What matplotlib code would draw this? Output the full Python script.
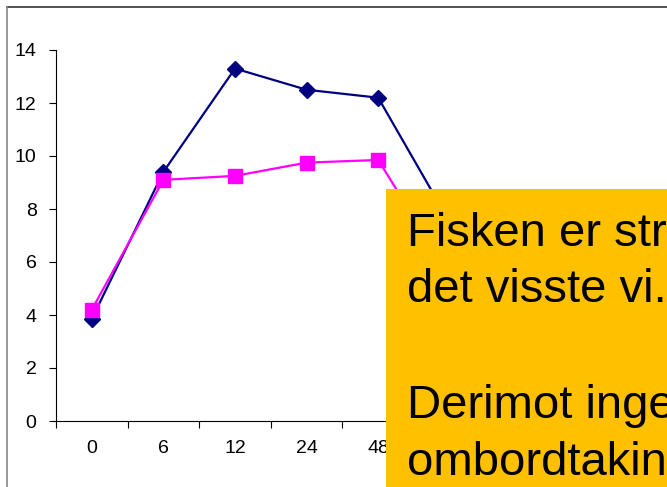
import matplotlib
matplotlib.use("Agg")
import matplotlib.pyplot as plt
from matplotlib.patches import Rectangle
from matplotlib.lines import Line2D

categories = ["0", "6", "12", "24", "48", "72"]
series_navy = [3.85, 9.4, 13.3, 12.5, 12.2, 7.5]
series_magenta = [4.2, 9.1, 9.25, 9.75, 9.85, 5.5]
y_ticks = [0, 2, 4, 6, 8, 10, 12, 14]
box_lines = ["Fisken er stresset", "det visste vi.", "", "Derimot ingen", "ombordtaking"]

W, H = 667, 487
fig = plt.figure(figsize=(W / 100, H / 100), dpi=100)
plt.rcParams['font.family'] = ['Liberation Sans', 'DejaVu Sans']

def fx(px):
    return px / W

def fy(py):
    return 1 - py / H

ax_left, ax_right, ax_top, ax_bottom = 56, 56 + 6 * 71.6, 50, 421
ax = fig.add_axes([fx(ax_left), fy(ax_bottom), fx(ax_right - ax_left), (ax_bottom - ax_top) / H])
x = list(range(len(categories)))
ax.plot(x, series_navy, color="#000080", lw=1.6, marker="D", ms=8, zorder=3, clip_on=False)
ax.plot(x, series_magenta, color="#FF00FF", lw=1.6, marker="s", ms=10.5, zorder=4, clip_on=False)
ax.set_xlim(-0.5, len(categories) - 0.5)
ax.set_ylim(0, 14)
ax.set_yticks(y_ticks)
ax.set_yticklabels([str(v) for v in y_ticks], fontsize=14)
ax.set_xticks(x)
ax.set_xticklabels(categories, fontsize=14)
ax.set_xticks([i - 0.5 for i in range(len(categories) + 1)], minor=True)
ax.tick_params(axis="x", which="major", length=0, pad=14)
ax.tick_params(axis="x", which="minor", length=5, width=0.8, direction="out")
ax.tick_params(axis="y", length=5, width=0.8, direction="out", pad=9)
for s in ["top", "right"]:
    ax.spines[s].set_visible(False)
for s in ["left", "bottom"]:
    ax.spines[s].set_linewidth(0.8)
ax.patch.set_alpha(0)

# slide frame
fig.add_artist(Line2D([fx(7), fx(W + 5)], [fy(7), fy(7)], color="#333333", lw=1.2, transform=fig.transFigure))
fig.add_artist(Line2D([fx(7), fx(7)], [fy(7), fy(H + 5)], color="#888888", lw=1.2, transform=fig.transFigure))

# orange text box
box = Rectangle((fx(386), fy(H + 5)), fx(W + 20 - 386), (H + 5 - 189) / H,
                transform=fig.transFigure, facecolor="#FFC000", edgecolor="none", zorder=10)
fig.add_artist(box)
baselines = [246, 302, 358, 418, 475]
for line, b in zip(box_lines, baselines):
    if line:
        fig.text(fx(407), fy(b), line, fontsize=34, color="black", ha="left", va="baseline", zorder=11)

fig.savefig("out.png", dpi=100)
